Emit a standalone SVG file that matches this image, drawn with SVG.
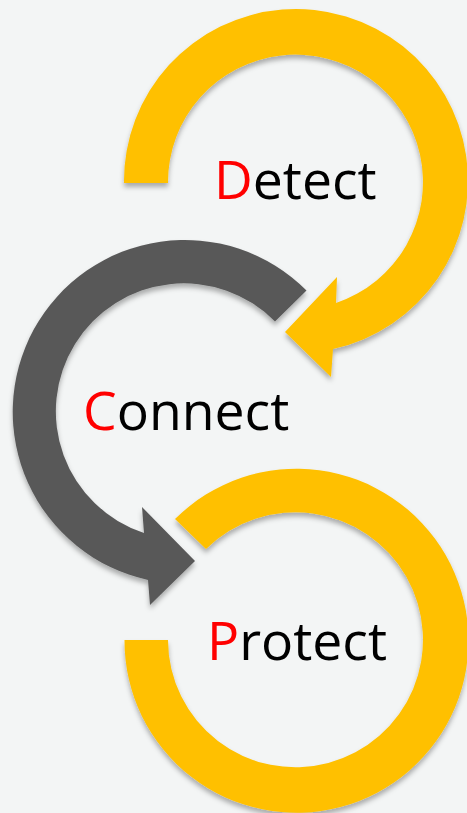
<svg xmlns="http://www.w3.org/2000/svg" width="467" height="813" viewBox="0 0 467 813">
<style>
.y{fill:#ffc000}
.g{fill:#595959}
.s{filter:url(#sh)}
text{font-family:"Open Sans","Noto Sans",sans-serif;font-size:53.5px;fill:#000}
.r{fill:#ff0000}
</style>
<defs><filter id="sh" x="-10%" y="-10%" width="120%" height="120%"><feDropShadow dx="0" dy="4" stdDeviation="2.5" flood-color="#000" flood-opacity="0.3"/></filter></defs>
<rect width="467" height="813" fill="#f3f5f5"/>
<g id="connectors">
<path class="y s" d="M124,183 A172,172 0 1 1 333,349 L331,377 L285,332 L337,277 L336,303 A127.5,127.5 0 1 0 168,183 Z"/>
<path class="g s" d="M306.5,290.5 A172,172 0 1 0 148,580 L150,605 L195,561 L142,507 L144,533 A128,128 0 1 1 275,321.5 Z"/>
<path class="y s" d="M124.5,640 A172,172 0 1 0 175,519 L206,549 A127.5,127.5 0 1 1 168,640 Z"/>
</g>
<g id="detect"><text x="214" y="199"><tspan class="r">D</tspan>etect</text></g>
<g id="connect"><text x="83" y="430"><tspan class="r">C</tspan>onnect</text></g>
<g id="protect"><text x="207" y="660"><tspan class="r">P</tspan>rotect</text></g>
</svg>
